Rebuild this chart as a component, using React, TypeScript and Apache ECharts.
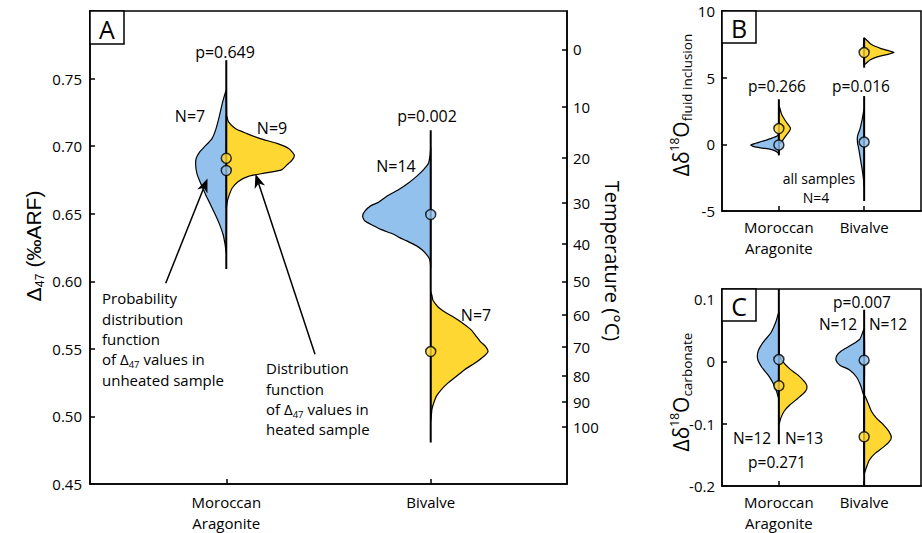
import React, { useEffect, useRef } from 'react';
import * as echarts from 'echarts';

// ---------- data ----------
const CATEGORIES = ['Moroccan\nAragonite', 'Bivalve'];
const CAT_POS = [1, 2];

// Panel A: Δ47 profiles, [Δ47 value, half-width (category units)]
const A_MOR_UNHEATED = [[0.7408,0],[0.7326,0.018],[0.7227,0.033],[0.7130,0.050],[0.7056,0.070],[0.6996,0.106],[0.6959,0.129],[0.6910,0.147],[0.6861,0.150],[0.6787,0.142],[0.6714,0.122],[0.6641,0.101],[0.6567,0.077],[0.6494,0.054],[0.6421,0.033],[0.6348,0.016],[0.6274,0.006],[0.6213,0]];
const A_MOR_HEATED = [[0.7230,0],[0.7216,0.003],[0.7179,0.011],[0.7130,0.044],[0.7093,0.101],[0.7056,0.166],[0.7020,0.248],[0.6983,0.305],[0.6934,0.333],[0.6897,0.322],[0.6861,0.297],[0.6824,0.270],[0.6800,0.186],[0.6776,0.108],[0.6739,0.059],[0.6690,0.029],[0.6641,0.015],[0.6592,0.005],[0.6543,0]];
const A_BIV_UNHEATED = [[0.6983,0],[0.6934,0.003],[0.6873,0.011],[0.6824,0.036],[0.6776,0.069],[0.6727,0.109],[0.6677,0.158],[0.6629,0.215],[0.6585,0.255],[0.6558,0.294],[0.6519,0.322],[0.6482,0.333],[0.6446,0.322],[0.6411,0.279],[0.6384,0.245],[0.6348,0.181],[0.6323,0.152],[0.6299,0.117],[0.6262,0.069],[0.6235,0.044],[0.6201,0.022],[0.6169,0.007],[0.6140,0.002],[0.6103,0]];
const A_BIV_HEATED = [[0.5920,0],[0.5896,0.006],[0.5859,0.011],[0.5810,0.036],[0.5773,0.069],[0.5737,0.109],[0.5688,0.158],[0.5639,0.199],[0.5590,0.224],[0.5554,0.243],[0.5517,0.269],[0.5480,0.280],[0.5444,0.259],[0.5394,0.215],[0.5346,0.166],[0.5297,0.126],[0.5248,0.085],[0.5199,0.052],[0.5150,0.028],[0.5101,0.015],[0.5053,0.006],[0.5004,0.003],[0.4967,0]];
const A_MEDIANS_UNHEATED = [0.682, 0.6494];
const A_MEDIANS_HEATED = [0.691, 0.548];
const A_RANGES = [[0.6091, 0.7636], [0.4808, 0.7117]];

// Temperature scale on the right axis of panel A
const TEMP_LABELS = [0, 10, 20, 30, 40, 50, 60, 70, 80, 90, 100];
const TEMP_POS = [0.7716, 0.7293, 0.6915, 0.6580, 0.6279, 0.5999, 0.5749, 0.5512, 0.5302, 0.5109, 0.4925];

// Panel B: Δδ18O fluid inclusion
const B_MOR_UNHEATED = [[0.83,0],[0.62,0.02],[0.43,0.097],[0.23,0.195],[0.08,0.272],[-0.05,0.330],[-0.17,0.292],[-0.28,0.195],[-0.38,0.097],[-0.53,0.032],[-0.68,0]];
const B_MOR_HEATED = [[2.9,0],[2.75,0.01],[2.25,0.032],[1.75,0.078],[1.25,0.135],[1.0,0.125],[0.62,0.078],[0.25,0.039],[0.0,0]];
const B_BIV_UNHEATED = [[2.62,0],[1.88,0.023],[1.13,0.050],[0.62,0.078],[0.13,0.078],[-0.38,0.062],[-1.13,0.043],[-1.88,0.023],[-2.62,0.008],[-3.13,0]];
const B_BIV_HEATED = [[7.95,0],[7.5,0.082],[7.18,0.198],[7.0,0.300],[6.88,0.350],[6.75,0.280],[6.58,0.163],[6.32,0.067],[6.0,0]];
const B_MEDIANS_UNHEATED = [-0.05, 0.17];
const B_MEDIANS_HEATED = [1.18, 6.88];
const B_RANGES_MOR = [-0.83, 3.38];
const B_RANGES_BIV_UNHEATED = [-4.25, 3.62];
const B_RANGES_BIV_HEATED = [5.75, 8.0];

// Panel C: Δδ18O carbonate
const C_MOR_UNHEATED = [[0.078,0],[0.062,0.039],[0.046,0.093],[0.031,0.183],[0.017,0.242],[0.004,0.249],[-0.009,0.202],[-0.022,0.125],[-0.035,0.067],[-0.048,0.027],[-0.059,0]];
const C_MOR_HEATED = [[0.012,0],[0.002,0.032],[-0.012,0.128],[-0.022,0.225],[-0.033,0.303],[-0.040,0.330],[-0.048,0.312],[-0.059,0.225],[-0.070,0.128],[-0.080,0.062],[-0.091,0.023],[-0.101,0]];
const C_BIV_UNHEATED = [[0.052,0],[0.036,0.050],[0.025,0.167],[0.017,0.265],[0.009,0.323],[0.002,0.330],[-0.006,0.284],[-0.014,0.167],[-0.025,0.090],[-0.038,0.043],[-0.048,0.020],[-0.056,0]];
const C_BIV_HEATED = [[-0.054,0],[-0.067,0.047],[-0.080,0.085],[-0.091,0.144],[-0.101,0.222],[-0.112,0.288],[-0.122,0.319],[-0.130,0.288],[-0.138,0.222],[-0.148,0.125],[-0.159,0.058],[-0.170,0.027],[-0.180,0]];
const C_MEDIANS_UNHEATED = [0.003, 0.002];
const C_MEDIANS_HEATED = [-0.039, -0.121];
const C_RANGES = [[-0.133, 0.1163], [-0.2, 0.083]];

// ---------- styling ----------
const BLUE = '#92C1EE';
const YELLOW = '#FFD733';
const FONT = 'Open Sans';
const FONT2 = 'Liberation Sans';

function violin(profile: number[][], center: number, side: number, color: string, axis: number) {
  return {
    type: 'custom',
    xAxisIndex: axis,
    yAxisIndex: axis === 0 ? 0 : axis + 1,
    z: 2,
    silent: true,
    data: profile.map(([v, hw]) => [center + side * hw, v]),
    renderItem: (params: any, api: any) => {
      if (params.dataIndex !== 0) return null;
      const pts = profile.map(([v, hw]) => api.coord([center + side * hw, v]));
      return {
        type: 'polygon',
        shape: { points: pts, smooth: 0.2 },
        style: { fill: color, stroke: '#000', lineWidth: 1.2 },
      };
    },
  };
}

function whisker(range: number[], center: number, axis: number) {
  return {
    type: 'line',
    xAxisIndex: axis,
    yAxisIndex: axis === 0 ? 0 : axis + 1,
    z: 3,
    silent: true,
    symbol: 'none',
    data: [[center, range[0]], [center, range[1]]],
    lineStyle: { color: '#000', width: 2 },
  };
}

function medians(unheated: number[], heated: number[], axis: number) {
  const data: any[] = [];
  CAT_POS.forEach((c, i) => {
    data.push({ value: [c, unheated[i]], itemStyle: { color: BLUE } });
    data.push({ value: [c, heated[i]], itemStyle: { color: YELLOW } });
  });
  return {
    type: 'scatter',
    xAxisIndex: axis,
    yAxisIndex: axis === 0 ? 0 : axis + 1,
    z: 4,
    silent: true,
    symbolSize: 10,
    itemStyle: { borderColor: '#000', borderWidth: 1.5 },
    data,
  };
}

function xAxisFor(grid: number, margin: number) {
  return {
    type: 'value',
    gridIndex: grid,
    min: 1 / 3,
    max: 8 / 3,
    axisLine: { show: true, onZero: false, lineStyle: { color: '#000', width: 1.5 } },
    axisTick: { show: true, inside: true, length: 5, customValues: CAT_POS, lineStyle: { color: '#000', width: 1.5 } },
    axisLabel: {
      customValues: CAT_POS,
      formatter: (v: number) => CATEGORIES[Math.round(v) - 1] || '',
      color: '#000', fontSize: 15, fontFamily: FONT, lineHeight: 20.5, margin,
    },
    splitLine: { show: false },
  };
}

function yAxisBase(grid: number) {
  return {
    type: 'value',
    gridIndex: grid,
    axisLine: { show: true, onZero: false, lineStyle: { color: '#000', width: 1.5 } },
    axisTick: { show: true, inside: true, length: 5, lineStyle: { color: '#000', width: 1.5 } },
    splitLine: { show: false },
  };
}

function arrow(x1: number, y1: number, x2: number, y2: number) {
  const dx = x2 - x1, dy = y2 - y1;
  const len = Math.sqrt(dx * dx + dy * dy);
  const ux = dx / len, uy = dy / len;
  const px = -uy, py = ux;
  const L = 14, W = 5.5, N = 10;
  const bx = x2 - ux * L, by = y2 - uy * L;
  const nx = x2 - ux * N, ny = y2 - uy * N;
  return [
    { type: 'line', shape: { x1, y1, x2: nx, y2: ny }, style: { stroke: '#000', lineWidth: 1.5 }, z: 20 },
    {
      type: 'polygon',
      shape: { points: [[x2, y2], [bx + px * W, by + py * W], [nx, ny], [bx - px * W, by - py * W]] },
      style: { fill: '#000' }, z: 20,
    },
  ];
}

function txt(x: number, y: number, text: string, size = 16) {
  return {
    type: 'text', x, y, z: 20,
    style: { text, fill: '#000', fontSize: size, fontFamily: FONT, align: 'center', verticalAlign: 'middle' },
  };
}

function letterBox(x: number, y: number, w: number, h: number, letter: string) {
  return [
    { type: 'rect', shape: { x, y, width: w, height: h }, style: { fill: '#fff', stroke: '#000', lineWidth: 1.5 }, z: 10 },
    {
      type: 'text', x: x + w / 2, y: y + h / 2 + 1, z: 11,
      style: { text: letter, fill: '#000', fontSize: 25, fontFamily: FONT, align: 'center', verticalAlign: 'middle' },
    },
  ];
}

export default function App() {
  const ref = useRef<HTMLDivElement>(null);
  useEffect(() => {
    document.body.style.margin = '0';
    const chart = echarts.init(ref.current!, undefined, { renderer: 'svg' });

    const sub = { fontSize: 9.5, lineHeight: 16, fontFamily: FONT, verticalAlign: 'bottom' as const };
    const t16 = { fontSize: 15, lineHeight: 20.4, fontFamily: FONT };

    const option: any = {
      animation: false,
      backgroundColor: '#fff',
      textStyle: { fontFamily: FONT, color: '#000' },
      grid: [
        { left: 90, top: 11, width: 477, height: 478, show: true, borderColor: '#000', borderWidth: 1.5 },
        { left: 722, top: 11, width: 199, height: 200, show: true, borderColor: '#000', borderWidth: 1.5 },
        { left: 722, top: 289, width: 199, height: 200, show: true, borderColor: '#000', borderWidth: 1.5 },
      ],
      xAxis: [xAxisFor(0, 8), xAxisFor(1, 6), xAxisFor(2, 6)],
      yAxis: [
        {
          ...yAxisBase(0), min: 0.45, max: 0.8, interval: 0.05,
          axisLabel: {
            color: '#000', fontSize: 15, fontFamily: FONT, margin: 8,
            formatter: (v: number) => (v > 0.775 ? '' : v.toFixed(2)),
          },
        },
        {
          ...yAxisBase(0), position: 'right', min: 0.45, max: 0.8,
          axisTick: { show: true, inside: true, length: 5, customValues: TEMP_POS, lineStyle: { color: '#000', width: 1.5 } },
          axisLabel: {
            customValues: TEMP_POS, color: '#000', fontSize: 15, fontFamily: FONT, margin: 6,
            formatter: (v: number) => {
              let best = 0;
              TEMP_POS.forEach((p, i) => { if (Math.abs(p - v) < Math.abs(TEMP_POS[best] - v)) best = i; });
              return String(TEMP_LABELS[best]);
            },
          },
        },
        {
          ...yAxisBase(1), min: -5, max: 10, interval: 5,
          axisLabel: { color: '#000', fontSize: 15, fontFamily: FONT, margin: 7 },
        },
        {
          ...yAxisBase(2), min: -0.2, max: 0.1163, interval: 0.1,
          axisLabel: {
            color: '#000', fontSize: 15, fontFamily: FONT, margin: 7,
            formatter: (v: number) => (Math.abs(v) < 1e-9 ? '0' : v.toFixed(1)),
          },
        },
      ],
      series: [
        // Panel A
        violin(A_MOR_UNHEATED, 1, -1, BLUE, 0),
        violin(A_MOR_HEATED, 1, 1, YELLOW, 0),
        violin(A_BIV_UNHEATED, 2, -1, BLUE, 0),
        violin(A_BIV_HEATED, 2, 1, YELLOW, 0),
        whisker(A_RANGES[0], 1, 0),
        whisker(A_RANGES[1], 2, 0),
        medians(A_MEDIANS_UNHEATED, A_MEDIANS_HEATED, 0),
        // Panel B
        violin(B_MOR_UNHEATED, 1, -1, BLUE, 1),
        violin(B_MOR_HEATED, 1, 1, YELLOW, 1),
        violin(B_BIV_UNHEATED, 2, -1, BLUE, 1),
        violin(B_BIV_HEATED, 2, 1, YELLOW, 1),
        whisker(B_RANGES_MOR, 1, 1),
        whisker(B_RANGES_BIV_UNHEATED, 2, 1),
        whisker(B_RANGES_BIV_HEATED, 2, 1),
        medians(B_MEDIANS_UNHEATED, B_MEDIANS_HEATED, 1),
        // Panel C
        violin(C_MOR_UNHEATED, 1, -1, BLUE, 2),
        violin(C_MOR_HEATED, 1, 1, YELLOW, 2),
        violin(C_BIV_UNHEATED, 2, -1, BLUE, 2),
        violin(C_BIV_HEATED, 2, 1, YELLOW, 2),
        whisker(C_RANGES[0], 1, 2),
        whisker(C_RANGES[1], 2, 2),
        medians(C_MEDIANS_UNHEATED, C_MEDIANS_HEATED, 2),
      ],
      graphic: [
        ...letterBox(90, 11, 34, 33, 'A'),
        ...letterBox(722, 11, 34, 32, 'B'),
        ...letterBox(722, 289, 34, 32, 'C'),
        // axis titles
        {
          type: 'text', x: 33, y: 246, rotation: Math.PI / 2, z: 20,
          style: {
            text: '{m|Δ}{s|47}{m| (‰ARF)}', align: 'center', verticalAlign: 'middle', fill: '#000',
            rich: { m: { fontSize: 21, lineHeight: 26, fontFamily: FONT2 }, s: { fontSize: 12.5, lineHeight: 14, fontFamily: FONT2, verticalAlign: 'bottom' } },
          },
        },
        {
          type: 'text', x: 612, y: 261, rotation: -Math.PI / 2, z: 20,
          style: { text: 'Temperature (°C)', align: 'center', verticalAlign: 'middle', fill: '#000', fontSize: 20, fontFamily: FONT },
        },
        {
          type: 'text', x: 681, y: 105, rotation: Math.PI / 2, z: 20,
          style: {
            text: '{m|Δδ}{p|18}{m|O}{s|fluid inclusion}', align: 'center', verticalAlign: 'middle', fill: '#000',
            rich: {
              m: { fontSize: 21, lineHeight: 26, fontFamily: FONT },
              p: { fontSize: 12, lineHeight: 13, fontFamily: FONT, verticalAlign: 'top' },
              s: { fontSize: 13.5, lineHeight: 14, fontFamily: FONT, verticalAlign: 'bottom' },
            },
          },
        },
        {
          type: 'text', x: 681, y: 392, rotation: Math.PI / 2, z: 20,
          style: {
            text: '{m|Δδ}{p|18}{m|O}{s|carbonate}', align: 'center', verticalAlign: 'middle', fill: '#000',
            rich: {
              m: { fontSize: 21, lineHeight: 26, fontFamily: FONT },
              p: { fontSize: 12, lineHeight: 13, fontFamily: FONT, verticalAlign: 'top' },
              s: { fontSize: 13.5, lineHeight: 14, fontFamily: FONT, verticalAlign: 'bottom' },
            },
          },
        },
        // panel A annotations
        txt(225, 52, 'p=0.649'),
        txt(190, 116, 'N=7'),
        txt(272, 128, 'N=9'),
        txt(427, 116, 'p=0.002'),
        txt(396, 166, 'N=14'),
        txt(476, 315, 'N=7'),
        {
          type: 'text', x: 102, y: 288, z: 20,
          style: {
            text: '{t|Probability}\n{t|distribution}\n{t|function}\n{t|of Δ}{s|47}{t| values in}\n{t|unheated sample}',
            align: 'left', verticalAlign: 'top', fill: '#000', rich: { t: t16, s: sub },
          },
        },
        {
          type: 'text', x: 266, y: 358, z: 20,
          style: {
            text: '{t|Distribution}\n{t|function}\n{t|of Δ}{s|47}{t| values in}\n{t|heated sample}',
            align: 'left', verticalAlign: 'top', fill: '#000', rich: { t: t16, s: sub },
          },
        },
        ...arrow(165.7, 283.3, 207.5, 178.5),
        ...arrow(315, 354.3, 255.5, 174),
        // panel B annotations
        txt(777, 86, 'p=0.266', 15.5),
        txt(861, 86, 'p=0.016', 15.5),
        txt(819, 178, 'all samples', 14),
        txt(816, 197.5, 'N=4', 14),
        // panel C annotations
        txt(862, 302, 'p=0.007', 15.5),
        txt(838, 324, 'N=12', 15.5),
        txt(888, 324, 'N=12', 15.5),
        txt(752, 437.5, 'N=12', 15.5),
        txt(804, 437.5, 'N=13', 15.5),
        txt(777, 462, 'p=0.271', 15.5),
      ],
    };
    chart.setOption(option);
    return () => chart.dispose();
  }, []);
  return <div ref={ref} style={{ width: 922, height: 533 }} />;
}
